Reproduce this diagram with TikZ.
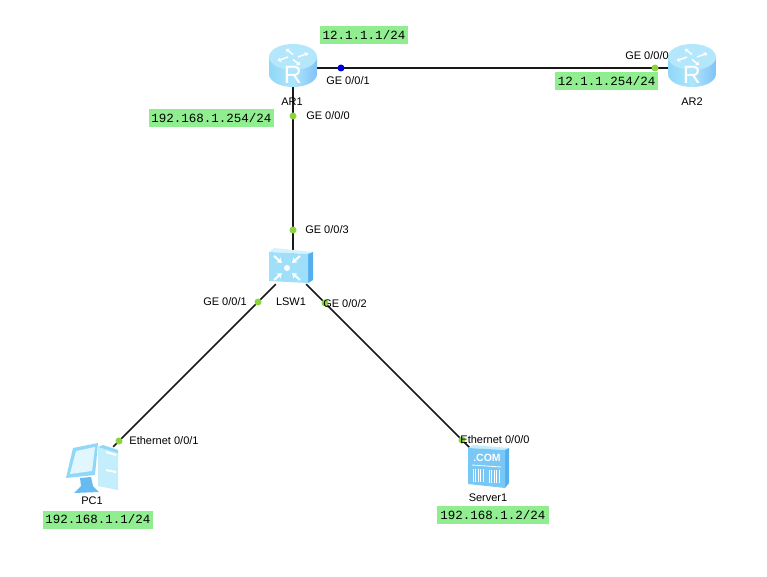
\documentclass[tikz,border=0pt]{standalone}
\usepackage{fontspec}
\setmainfont{Liberation Sans}
\setmonofont{Liberation Mono}
\usepackage{tikz}
\usetikzlibrary{arrows.meta,calc}
\definecolor{ipgreen}{HTML}{90EE90}
\definecolor{portgreen}{HTML}{8CD43C}
\definecolor{iconlt}{HTML}{C4EEFC}
\definecolor{iconmid}{HTML}{8FD8F8}
\definecolor{icondk}{HTML}{55AEEE}
\tikzset{
  dev/.style={inner sep=0pt,minimum width=#1},
  link/.style={line width=1.6pt,black!90},
  portdot/.style={circle,fill=portgreen,inner sep=0pt,minimum size=7pt},
  txt/.style={font=\fontsize{11pt}{12pt}\selectfont,inner sep=0pt,text=black},
  ip/.style={fill=ipgreen,inner sep=0pt,minimum height=18pt,font=\fontsize{12.5pt}{14pt}\ttfamily\selectfont,text=black},
  glyph/.style={white,line width=2pt,-{Stealth[length=5pt,width=6.5pt]}},
}
% x y name text
\newcommand{\lbl}[4]{\node[txt] (#3) at (#1,#2) {#4};}
\newcommand{\ipbox}[5]{\node[ip,minimum width=#3pt] (#4) at (#1,#2) {#5};}
\newcommand{\pdot}[3]{\node[portdot,#3] (d#1) at (#2) {};}
\newcommand{\routericon}[2]{%
  \begin{scope}[shift={(#1,#2)}]
  \shade[left color=iconmid,right color=iconmid!90!blue,middle color=iconlt!60!iconmid]
    (-24,-11) -- (-24,6) arc[start angle=180,end angle=360,x radius=24pt,y radius=13pt] -- (24,-11) -- cycle;
  \fill[iconlt!70!iconmid] (0,-11) ellipse[x radius=24pt,y radius=13pt];
  \foreach \a in {0,90,180,270} {
    \draw[white,line width=1.5pt,-{Stealth[length=3.5pt,width=5pt]}] ($(0,-11)+({\a}:5pt and 2.5pt)$) -- ($(0,-11)+({\a+25}:17pt and 9pt)$);
  }
  \node[white,inner sep=0pt,font=\fontsize{25pt}{25pt}\selectfont] (r#1) at (0,7) {R};
  \end{scope}}
\begin{document}
\begin{tikzpicture}[x=1pt,y=-1pt]
\useasboundingbox (0,0) rectangle (767,577);
\fill[white] (0,0) rectangle (767,577);
% devices
\node[dev=48pt,minimum height=38pt] (AR1) at (293,68) {};
\node[dev=48pt,minimum height=38pt] (AR2) at (692,68) {};
\node[dev=44pt,minimum height=30pt] (LSW1) at (291,269) {};
\node[dev=42pt,minimum height=42pt] (PC1) at (92,468) {};
\node[dev=38pt,minimum height=38pt] (Server1) at (489,467) {};
% links
\draw[link] (AR1) -- (AR2);
\draw[link] (AR1.south) -- (AR1.south |- LSW1.north);
\draw[link] (LSW1) -- (PC1);
\draw[link] (LSW1) -- (Server1);
% icons
\routericon{293}{68}
\routericon{692}{68}
\begin{scope}[shift={(269,248)}]
  \fill[iconlt!70!white] (0,4) -- (5,0) -- (44,4) -- (39,6) -- cycle;
  \fill[icondk] (39,6) -- (44,4) -- (44,32) -- (39,35) -- cycle;
  \fill[iconmid!70!iconlt] (0,4) -- (39,6) -- (39,35) -- (0,33) -- cycle;
  \foreach \sx/\sy in {-1/-1,1/-1,-1/1,1/1}
    \draw[glyph] (18+\sx*13,20+\sy*12) -- (18+\sx*5,20+\sy*5);
  \fill[white] (18,20) circle[radius=3pt];
\end{scope}
\begin{scope}[shift={(66,442)}]
  \fill[iconlt] (32,5) -- (52,11) -- (52,48) -- (32,44) -- cycle;
  \fill[iconmid] (32,5) -- (37,3) -- (52,8) -- (52,11) -- cycle;
  \fill[white] (40,9) -- (50,12) -- (50,14) -- (40,11) -- cycle;
  \fill[white] (40,27) -- (50,29) -- (50,31) -- (40,29) -- cycle;
  \fill[iconmid] (7,6) -- (32,1) -- (29,33) -- (0,36) -- cycle;
  \fill[iconlt!50!white] (10,9) -- (29,5) -- (26,29) -- (4,32) -- cycle;
  \fill[icondk!70!iconmid] (14,36) -- (25,35) -- (27,44) -- (33,50) -- (8,51) -- (15,44) -- cycle;
\end{scope}
\begin{scope}[shift={(468,445)}]
  \fill[iconlt] (0,3) -- (5,0) -- (41,3) -- (37,5) -- cycle;
  \fill[icondk] (37,5) -- (41,3) -- (41,38) -- (37,43) -- cycle;
  \fill[iconmid!60!icondk] (0,3) -- (37,5) -- (37,43) -- (0,39) -- cycle;
  \node[white,inner sep=0pt,font=\fontsize{10.5pt}{10pt}\bfseries\selectfont] (comtxt) at (19,13) {.COM};
  \draw[white,line width=.8pt] (4,20) -- (33,22);
  \foreach \i in {0,...,4} {
    \draw[white,line width=.7pt] (5+\i*2.5,24) -- (5+\i*2.5,37);
    \draw[white,line width=.7pt] (21+\i*2.5,25) -- (21+\i*2.5,38);
  }
\end{scope}
% port dots
\pdot{a}{293,116}{}
\pdot{b}{341,68}{fill=blue!85!black}
\pdot{c}{655,68}{}
\pdot{e}{293,230}{}
\pdot{f}{258,302}{}
\pdot{g}{325,303}{}
\pdot{h}{119,441}{}
\pdot{i}{462,440}{}
% labels
\lbl{292}{102}{tAR1}{AR1}
\lbl{692}{102}{tAR2}{AR2}
\lbl{291}{302}{tLSW1}{LSW1}
\lbl{92}{501}{tPC1}{PC1}
\lbl{488}{498}{tServer1}{Server1}
\lbl{348}{81}{pa}{GE 0/0/1}
\lbl{328}{116}{pb}{GE 0/0/0}
\lbl{647}{56}{pc}{GE 0/0/0}
\lbl{327}{230}{pd}{GE 0/0/3}
\lbl{225}{302}{pe}{GE 0/0/1}
\lbl{345}{304}{pf}{GE 0/0/2}
\lbl{164}{441}{pg}{Ethernet 0/0/1}
\lbl{495}{440}{ph}{Ethernet 0/0/0}
% addresses
\ipbox{364}{35}{88}{ia}{12.1.1.1/24}
\ipbox{211.5}{118}{125}{ib}{192.168.1.254/24}
\ipbox{606.5}{81}{103}{ic}{12.1.1.254/24}
\ipbox{98}{519.5}{110}{id}{192.168.1.1/24}
\ipbox{493}{515}{112}{ie}{192.168.1.2/24}
\end{tikzpicture}
\end{document}
